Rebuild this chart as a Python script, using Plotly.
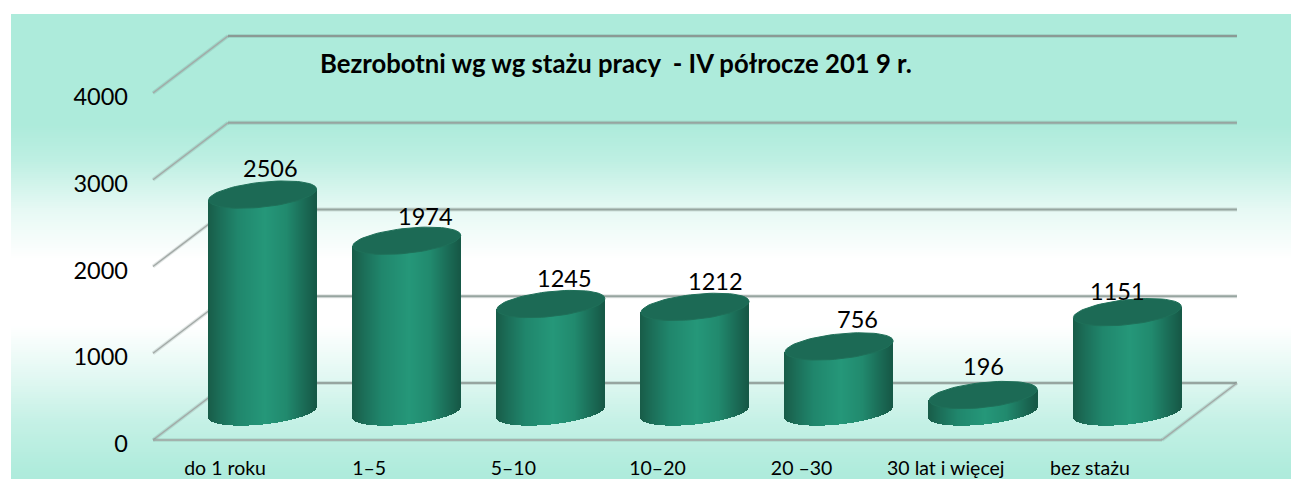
import math
import plotly.graph_objects as go

# --- data ---
categories = ["do 1 roku", "1–5", "5–10", "10–20", "20 –30", "30 lat i więcej", "bez stażu"]
values = [2506, 1974, 1245, 1212, 756, 196, 1151]
y_ticks = [0, 1000, 2000, 3000, 4000]
title_text = "Bezrobotni wg wg stażu pracy\u00a0\u00a0- IV półrocze 201 9 r."

# --- label nudges (pixels) ---
label_dx = [8, 19, 14, 21, 18, 0, -10]
label_dy = [27, 25, 26, 26, 27, 29, 21]

# --- layout geometry in pixels ---
W, H = 1291, 479
L, R, T, B = 135, 1291, 14, 452
Y0_PX, PX_PER_UNIT = 440, 0.08675
X0_PX, PX_PER_CAT = 153, 144.14
DEPTH_X_PX, DEPTH_Y_PX = 75, 57
MID_X_PX, MID_Y_PX = 37.5, 28
A_PX, B_PX, TILT_PX = 54, 12.5, 5.5

cx = lambda px: px / PX_PER_CAT
vy = lambda px: px / PX_PER_UNIT
paper_x = lambda p: (p - L) / (R - L)
paper_y = lambda p: (B - p) / (B - T)

x_range = [(L - X0_PX) / PX_PER_CAT, (R - X0_PX) / PX_PER_CAT]
y_range = [(Y0_PX - B) / PX_PER_UNIT, (Y0_PX - T) / PX_PER_UNIT]

# --- background gradient ---
TEAL = (173, 235, 219)
WHITE = (255, 255, 255)
grad_stops = [(14, 0.0), (125, 0.0), (160, 0.2), (210, 0.7), (260, 1.0),
              (326, 1.0), (380, 0.62), (420, 0.3), (470, 0.03), (485, 0.0)]


def grad_color(p):
    t = 0.0
    for (p0, t0), (p1, t1) in zip(grad_stops, grad_stops[1:]):
        if p0 <= p <= p1:
            t = t0 + (t1 - t0) * (p - p0) / (p1 - p0)
            break
    c = [round(a + (b - a) * t) for a, b in zip(TEAL, WHITE)]
    return f"rgb({c[0]},{c[1]},{c[2]})"


shapes = []
for p in range(14, 482, 2):
    shapes.append(dict(type="rect", xref="paper", yref="paper", layer="below",
                       x0=paper_x(11), x1=paper_x(W + 2), y0=paper_y(p), y1=paper_y(p + 2.5),
                       fillcolor=grad_color(p + 1), line_width=0))


def wall_line(x0, y0, x1, y1, color, width, shadow=True):
    if shadow:
        shapes.append(dict(type="line", xref="x", yref="y", layer="below", x0=x0, y0=y0, x1=x1, y1=y1,
                           line=dict(color="rgba(90,110,105,0.18)", width=width + 2)))
    shapes.append(dict(type="line", xref="x", yref="y", layer="below", x0=x0, y0=y0, x1=x1, y1=y1,
                       line=dict(color=color, width=width)))


n = len(categories)
dx, dy = cx(DEPTH_X_PX), vy(DEPTH_Y_PX)
for v in y_ticks:
    wall_line(0, v, dx, v + dy, "#a3aaa7", 1.5)
    wall_line(dx, v + dy, n + dx, v + dy, "#97a5a0" if v < 4000 else "#8b9a95", 2)
wall_line(0, 0, n, 0, "#a0a6a3", 1.5)
wall_line(n, 0, n + dx, dy, "#a3aaa7", 1.5)

# --- cylinder shading ---
shade_stops = [(-1.0, (24, 92, 72)), (-0.75, (28, 112, 90)), (-0.45, (32, 134, 108)),
               (0.05, (37, 151, 121)), (0.45, (33, 138, 110)), (0.75, (27, 110, 88)), (1.0, (22, 88, 70))]


def shade(u):
    for (u0, c0), (u1, c1) in zip(shade_stops, shade_stops[1:]):
        if u0 <= u <= u1:
            t = (u - u0) / (u1 - u0)
            c = [round(a + (b - a) * t) for a, b in zip(c0, c1)]
            return f"rgb({c[0]},{c[1]},{c[2]})"
    return "rgb(24,92,72)"


fig = go.Figure()
centers = [i + 0.5 + cx(MID_X_PX) for i in range(n)]
mid_v = vy(MID_Y_PX)
N_SLICE = 108
for i, (name, v) in enumerate(zip(categories, values)):
    xs, bases, heights, cols = [], [], [], []
    for k in range(N_SLICE):
        u = -1 + (2 * k + 1) / N_SLICE
        root = math.sqrt(max(0, 1 - u * u))
        lo = mid_v + vy(TILT_PX) * u - vy(B_PX) * root
        hi = mid_v + v + vy(TILT_PX) * u
        xs.append(centers[i] + cx(A_PX) * u)
        bases.append(lo)
        heights.append(hi - lo)
        cols.append(shade(u))
    fig.add_trace(go.Bar(x=xs, y=heights, base=bases, width=cx(1.6), name=name,
                         marker=dict(color=cols, line_width=0), showlegend=False, hoverinfo="skip"))
for i, (name, v) in enumerate(zip(categories, values)):
    ts = [2 * math.pi * k / 72 for k in range(73)]
    ex = [centers[i] + cx(A_PX) * math.cos(t) for t in ts]
    ey = [mid_v + v + vy(TILT_PX) * math.cos(t) + vy(B_PX) * math.sin(t) for t in ts]
    fig.add_trace(go.Scatter(x=ex, y=ey, mode="lines", fill="toself", fillcolor="#1c6a55",
                             line=dict(color="#1f7059", width=1), showlegend=False, hoverinfo="skip"))

annotations = [dict(x=centers[i], y=mid_v + v, text=str(v), showarrow=False, xshift=label_dx[i], yshift=label_dy[i],
                    font=dict(family="Lato", size=23.5, color="#000000"), xanchor="center", yanchor="middle")
               for i, v in enumerate(values)]
annotations.append(dict(xref="paper", yref="paper", x=paper_x(318), y=paper_y(63), text=f"<b>{title_text}</b>",
                        showarrow=False, xanchor="left", yanchor="middle",
                        font=dict(family="Lato", size=25.7, color="#000000")))

fig.update_layout(
    width=W, height=H, margin=dict(l=L, r=W - R, t=T, b=H - B, pad=0, autoexpand=False),
    paper_bgcolor="white", plot_bgcolor="rgba(0,0,0,0)", bargap=0, barmode="overlay",
    shapes=shapes, annotations=annotations, showlegend=False,
    xaxis=dict(range=x_range, tickmode="array", tickvals=[i + 0.5 for i in range(n)], ticktext=categories,
               automargin=False, showgrid=False, zeroline=False, showline=False, ticks="", ticklabelstandoff=2,
               tickfont=dict(family="Lato", size=19.5, color="#000000")),
    yaxis=dict(range=y_range, tickmode="array", tickvals=y_ticks, ticktext=[str(v) for v in y_ticks],
               automargin=False, showgrid=False, zeroline=False, showline=False, ticks="", ticklabelstandoff=6,
               ticklabelshift=4, tickfont=dict(family="Lato", size=23.5, color="#000000")),
)

fig.write_html("out.html", config={"displayModeBar": False},
               post_script="document.body.style.margin='0';document.body.style.overflow='hidden';window.dispatchEvent(new Event('resize'));")
